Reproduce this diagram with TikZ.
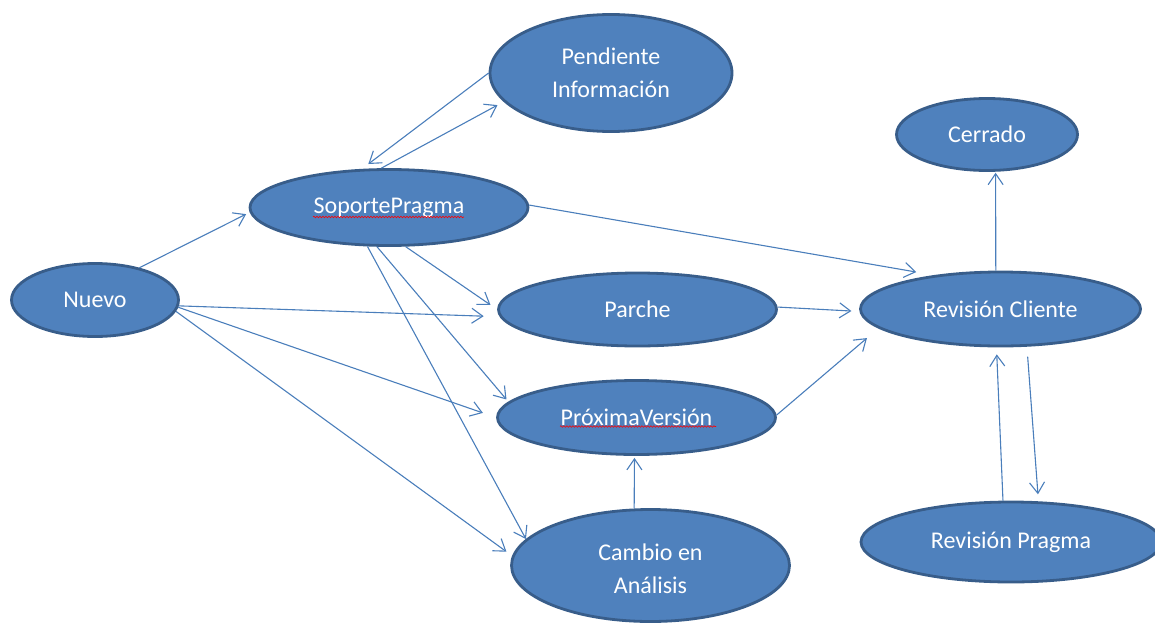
\documentclass[tikz,border=0pt]{standalone}
\usepackage{fontspec}
\setmainfont{Carlito}
\usetikzlibrary{shapes.geometric,arrows.meta,decorations.pathmorphing}
\definecolor{fillblue}{HTML}{4F81BD}
\definecolor{edgeblue}{HTML}{385D8A}
\definecolor{lineblue}{HTML}{4A7EBB}
\begin{document}
\begin{tikzpicture}[x=1pt,y=-1pt,
  state/.style={ellipse, draw=edgeblue, fill=fillblue, line width=2.8pt, inner sep=0pt,
    text=white, font=\fontsize{24}{33}\selectfont, align=center},
  arr/.style={draw=lineblue, line width=1.1pt,
    -{Straight Barb[length=11pt,width=15pt,line width=1.1pt]}},
  squig/.style={red, line width=0.6pt, decorate,
    decoration={snake, amplitude=0.8pt, segment length=3pt}}]
\useasboundingbox (0,0) rectangle (1155,626);

\node[state, minimum width=242pt, minimum height=117pt] (PI) at (611,73)
  {\raisebox{-8pt}[0pt][0pt]{\begin{tabular}{@{}c@{}}Pendiente\\Información\end{tabular}}};
\node[state, minimum width=278pt, minimum height=76pt] (SP) at (389,207.5) {SoportePragma};
\node[state, minimum width=167pt, minimum height=73pt] (N) at (95,300) {Nuevo};
\node[state, minimum width=278pt, minimum height=73pt] (PA) at (637.5,309.5) {Parche};
\node[state, minimum width=278pt, minimum height=74pt] (PV) at (636.5,417.5) {PróximaVersión};
\node[state, minimum width=278pt, minimum height=112pt] (CA) at (650.5,565.5)
  {\raisebox{-11pt}[0pt][0pt]{\begin{tabular}{@{}c@{}}Cambio en\\Análisis\end{tabular}}};
\node[state, minimum width=280pt, minimum height=74pt] (RC) at (1000.5,309) {Revisión Cliente};
\node[state, minimum width=300pt, minimum height=80pt] (RP) at (1011,542) {Revisión Pragma};
\node[state, minimum width=181pt, minimum height=72pt] (CE) at (987,134.5) {Cerrado};

\draw[squig] (313,217) -- (464,217);
\draw[squig] (560,426.5) -- (716,426.5);

\draw[arr, shorten >=4pt] (N.36) -- (SP.182);
\draw[arr, shorten >=8pt] (PI.180) -- (SP.125);
\draw[arr, shorten >=7pt] (SP.101) -- (PI.195);
\draw[arr, shorten >=18pt] (SP.1) -- (RC.153);
\draw[arr, shorten >=8pt] (SP.-67) -- (PA.180);
\draw[arr, shorten >=3pt] (SP.-107) -- (PV.173);
\draw[arr] (SP.-119) -- (CA.168);
\draw[arr, shorten >=16pt] (N.-4) -- (PA.183);
\draw[arr, shorten >=14pt] (N.-5) -- (PV.180);
\draw[arr, shorten >=7pt] (N.-8) -- (CA.176);
\draw[arr, shorten >=8pt] (PA.1) -- (RC.181);
\draw[arr, shorten >=15pt] (PV.1) -- (RC.189);
\draw[arr, shorten >=2pt] (CA.106) -- (PV.267);
\draw[arr, shorten >=1pt] (RC.97) -- (CE.283);
\draw[arr, shorten >=7pt] (RP.101) -- (RC.264);
\draw[arr, shorten <=10pt, shorten >=7pt] (RC.305) -- (RP.56);
\end{tikzpicture}
\end{document}
